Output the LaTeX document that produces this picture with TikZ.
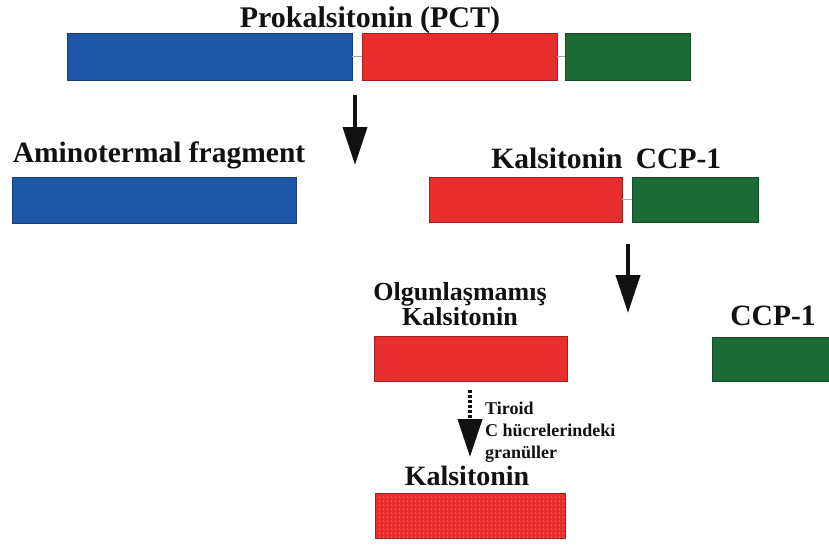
\documentclass[tikz,border=0pt]{standalone}
\usepackage{fontspec}
\setmainfont{Liberation Serif}
\usetikzlibrary{arrows.meta,patterns.meta}
\definecolor{pblue}{HTML}{1F57A8}
\definecolor{pbluedk}{HTML}{173F7A}
\definecolor{pred}{HTML}{E82D2D}
\definecolor{preddk}{HTML}{9E2020}
\definecolor{pgreen}{HTML}{1C6A34}
\definecolor{pgreendk}{HTML}{144A25}
\definecolor{pdot}{HTML}{F47A7A}
\definecolor{ink}{HTML}{111111}
\tikzset{
  seg/.style={inner sep=0pt, outer sep=0pt, line width=1pt},
  bseg/.style={seg, fill=pblue, draw=pbluedk},
  rseg/.style={seg, fill=pred, draw=preddk},
  gseg/.style={seg, fill=pgreen, draw=pgreendk},
  link/.style={draw=gray!70, line width=1pt},
  lbl/.style={inner sep=0pt, text=ink, font=\bfseries\fontsize{29.5}{34}\selectfont, anchor=base},
  small/.style={inner sep=0pt, text=ink, font=\bfseries\fontsize{18}{22}\selectfont, align=left, anchor=north west},
  arr/.style={line width=4pt, ink, -{Triangle[width=24pt,length=38pt]}},
}
\begin{document}
\begin{tikzpicture}[x=1pt,y=-1pt]
\useasboundingbox (0,0) rectangle (829,544);
\fill[white] (0,0) rectangle (829,544);
% top row
\node[lbl, font=\bfseries\fontsize{30}{34}\selectfont] (title) at (370,27) {Prokalsitonin (PCT)};
\node[bseg, minimum width=285pt, minimum height=47pt] (b1) at (209.5,56.5) {};
\node[rseg, minimum width=195pt, minimum height=47pt] (r1) at (459.5,56.5) {};
\node[gseg, minimum width=125pt, minimum height=47pt] (g1) at (627.5,56.5) {};
\draw[link] (b1.east) -- (r1.west);
\draw[link] (r1.east) -- (g1.west);
% arrow 1
\coordinate (a1s) at (355,95);
\coordinate (a1e) at (355,165);
\draw[arr] (a1s) -- (a1e);
% second row
\node[lbl] (amino) at (159,162) {Aminotermal fragment};
\node[bseg, minimum width=284pt, minimum height=46pt] (b2) at (154,200) {};
\node[lbl] (kal1) at (557,168) {Kalsitonin};
\node[lbl] (ccp1) at (678.5,168) {CCP-1};
\node[rseg, minimum width=193pt, minimum height=45pt] (r2) at (525.5,199.5) {};
\node[gseg, minimum width=126pt, minimum height=45pt] (g2) at (695,199.5) {};
\draw[link] (r2.east) -- (g2.west);
% arrow 2
\coordinate (a2s) at (628,244);
\coordinate (a2e) at (628,313);
\draw[arr] (a2s) -- (a2e);
% third row
\node[lbl, font=\bfseries\fontsize{26}{25}\selectfont, align=center, anchor=base] (olg) at (460,325) {Olgunlaşmamış\\Kalsitonin};
\node[rseg, minimum width=193pt, minimum height=45pt] (r3) at (470.5,358.5) {};
\node[lbl] (ccp2) at (773,325) {CCP-1};
\node[gseg, minimum width=130pt, minimum height=44pt] (g3) at (777,359) {};
% dashed arrow
\coordinate (a3s) at (470,390);
\coordinate (a3e) at (470,457);
\draw[arr, dash pattern=on 3pt off 2pt] (a3s) -- (a3e);
\node[small] (tir) at (485,402) {Tiroid\\C hücrelerindeki\\granüller};
% bottom
\node[lbl, font=\bfseries\fontsize{28}{32}\selectfont] (kal2) at (467,485) {Kalsitonin};
\node[rseg, minimum width=190pt, minimum height=45pt] (r4) at (470,515.5) {};
\fill[pattern={Dots[distance=4pt, radius=0.9pt]}, pattern color=pdot] (r4.south west) rectangle (r4.north east);
\draw[preddk, line width=1pt] (r4.south west) rectangle (r4.north east);
\end{tikzpicture}
\end{document}
